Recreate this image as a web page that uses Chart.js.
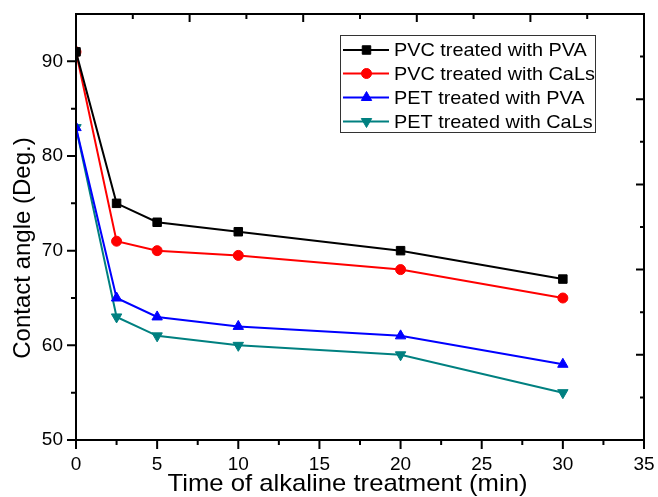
<!DOCTYPE html>
<html><head><meta charset="utf-8">
<script src="https://cdn.jsdelivr.net/npm/chart.js@4"></script>
<style>html,body{margin:0;padding:0;background:#fff}#wrap{width:658px;height:497px}</style>
</head><body><div id="wrap"><canvas id="c" width="658" height="497"></canvas></div>
<script>
const times = [0, 2.5, 5, 10, 20, 30];
const seriesNames = ['PVC treated with PVA', 'PVC treated with CaLs', 'PET treated with PVA', 'PET treated with CaLs'];
const pvcPva = [91, 75, 73, 72, 70, 67];
const pvcCaLs = [91, 71, 70, 69.5, 68, 65];
const petPva = [83, 65, 63, 62, 61, 58];
const petCaLs = [83, 63, 61, 60, 59, 55];
const xTicks = [0, 5, 10, 15, 20, 25, 30, 35];
const yTicks = [50, 60, 70, 80, 90];
const xTitle = 'Time of alkaline treatment (min)';
const yTitle = 'Contact angle (Deg.)';

const FONT = "'Liberation Sans', Arial, sans-serif";
const colors = ['#000000', '#ff0000', '#0000ff', '#008080'];
const styles = [
  {pointStyle: 'rect', radius: 6, rotation: 0},
  {pointStyle: 'circle', radius: 5, rotation: 0},
  {pointStyle: 'triangle', radius: 6, rotation: 0},
  {pointStyle: 'triangle', radius: 6, rotation: 180}
];
const allSeries = [pvcPva, pvcCaLs, petPva, petCaLs];

const datasets = allSeries.map((vals, i) => ({
  label: seriesNames[i],
  data: times.map((t, j) => ({x: t, y: vals[j]})),
  borderColor: colors[i],
  backgroundColor: colors[i],
  borderWidth: 2,
  pointStyle: styles[i].pointStyle,
  pointRadius: styles[i].radius,
  pointRotation: styles[i].rotation,
  pointBorderWidth: 1,
  pointBackgroundColor: colors[i],
  pointBorderColor: colors[i],
  tension: 0,
  fill: false
}));

function zeroPad(s) { s.paddingLeft = 0; s.paddingRight = 0; s.paddingTop = 0; s.paddingBottom = 0; }

const framePlugin = {
  id: 'frame',
  afterDraw(chart) {
    const ctx = chart.ctx;
    const a = chart.chartArea;
    const xs = chart.scales.x, ys = chart.scales.y;
    ctx.save();
    ctx.strokeStyle = '#000';
    ctx.lineWidth = 2;
    ctx.strokeRect(a.left, a.top, a.right - a.left, a.bottom - a.top);
    ctx.beginPath();
    for (let v = 0; v <= 35.001; v += 2.5) {
      const px = xs.getPixelForValue(v);
      const major = Math.abs(v / 5 - Math.round(v / 5)) < 1e-6;
      ctx.moveTo(px, a.bottom); ctx.lineTo(px, a.bottom + (major ? 9 : 5));
    }
    for (let v = 50; v <= 90.001; v += 5) {
      const py = ys.getPixelForValue(v);
      const major = Math.abs(v / 10 - Math.round(v / 10)) < 1e-6;
      ctx.moveTo(a.left, py); ctx.lineTo(a.left - (major ? 9 : 5), py);
    }
    for (let k = 1; k < 10; k++) {
      const px = xs.getPixelForValue(k * 3.5);
      const major = k % 2 === 0;
      ctx.moveTo(px, a.top); ctx.lineTo(px, a.top + (major ? 8 : 5));
    }
    for (let k = 1; k < 10; k++) {
      const py = ys.getPixelForValue(50 + k * 4.5);
      const major = k % 2 === 0;
      ctx.moveTo(a.right, py); ctx.lineTo(a.right - (major ? 8 : 4), py);
    }
    ctx.stroke();

    ctx.fillStyle = '#000';
    ctx.font = '24px ' + FONT;
    ctx.textAlign = 'center';
    ctx.textBaseline = 'middle';
    ctx.save();
    ctx.translate(347.5, 484);
    ctx.scale(1.07, 1);
    ctx.fillText(xTitle, 0, 0);
    ctx.restore();
    ctx.save();
    ctx.translate(23, 248);
    ctx.rotate(-Math.PI / 2);
    ctx.fillText(yTitle, 0, 0);
    ctx.restore();

    const bx = 340.5, by = 35.5, bw = 255, bh = 97;
    ctx.lineWidth = 1;
    ctx.strokeStyle = '#333';
    ctx.strokeRect(bx, by, bw, bh);
    const rows = [50, 73.5, 97.5, 121.5];
    ctx.font = '19px ' + FONT;
    ctx.textAlign = 'left';
    rows.forEach((ry, i) => {
      ctx.strokeStyle = colors[i];
      ctx.lineWidth = 2;
      ctx.beginPath();
      ctx.moveTo(343, ry); ctx.lineTo(389, ry);
      ctx.stroke();
      ctx.fillStyle = colors[i];
      ctx.strokeStyle = colors[i];
      ctx.lineWidth = 1;
      Chart.helpers.drawPoint(ctx, {pointStyle: styles[i].pointStyle, rotation: styles[i].rotation, radius: styles[i].radius, borderWidth: 1}, 366.5, ry);
      ctx.fillStyle = '#000';
      ctx.save();
      ctx.translate(394, ry + 1);
      ctx.scale(1.045, 1);
      ctx.fillText(seriesNames[i], 0, 0);
      ctx.restore();
    });
    ctx.restore();
  }
};

new Chart(document.getElementById('c'), {
  type: 'line',
  data: {datasets},
  options: {
    responsive: false,
    devicePixelRatio: 1,
    animation: false,
    layout: {padding: {left: 0, right: 14, top: 14, bottom: 0}},
    plugins: {legend: {display: false}, tooltip: {enabled: false}},
    scales: {
      x: {
        type: 'linear', min: 0, max: 35,
        afterBuildTicks: s => { s.ticks = xTicks.map(v => ({value: v})); },
        afterFit: s => { s.height = 57; zeroPad(s); },
        grid: {display: false, drawTicks: false, tickLength: 0},
        border: {display: false},
        ticks: {color: '#000', font: {family: FONT, size: 19}, padding: 13, maxRotation: 0, autoSkip: false}
      },
      y: {
        type: 'linear', min: 50, max: 95,
        afterBuildTicks: s => { s.ticks = yTicks.map(v => ({value: v})); },
        afterFit: s => { s.width = 76; zeroPad(s); },
        grid: {display: false, drawTicks: false, tickLength: 0},
        border: {display: false},
        ticks: {color: '#000', font: {family: FONT, size: 19}, padding: 13, autoSkip: false}
      }
    }
  },
  plugins: [framePlugin]
});
</script>
</body></html>
